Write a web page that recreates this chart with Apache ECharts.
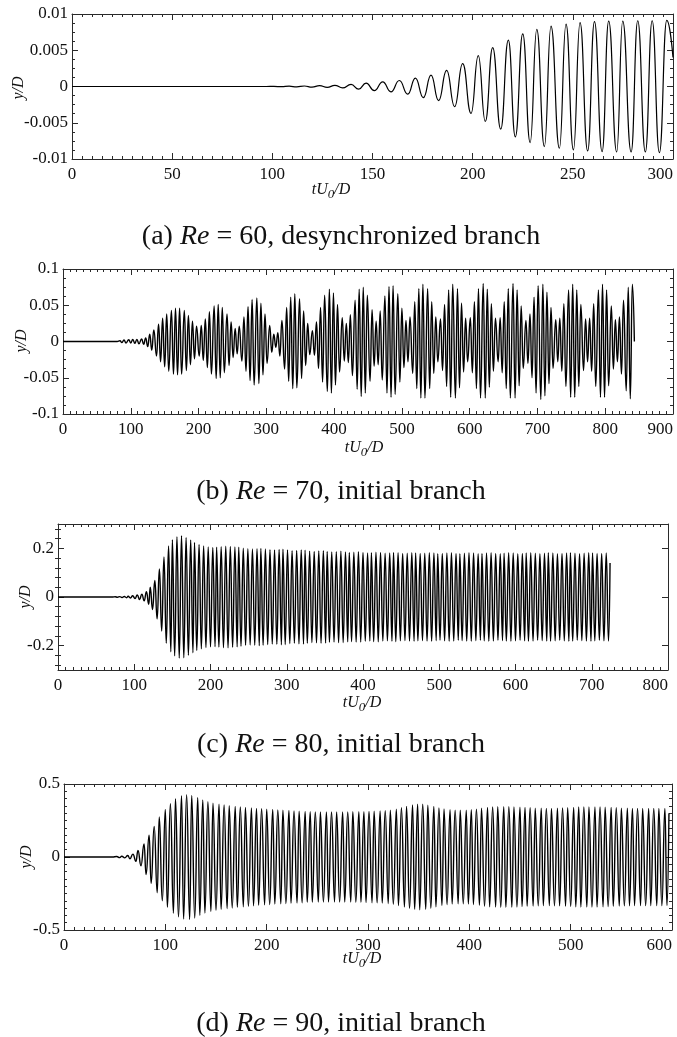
<!DOCTYPE html>
<html><head><meta charset="utf-8">
<script src="https://cdn.jsdelivr.net/npm/echarts@6/dist/echarts.min.js"></script>
<style>html,body{margin:0;padding:0;background:#fff}#c{width:677px;height:1037px}</style>
</head><body><div id="c"></div>
<script>
// ---------- data ----------
const timeA = [0, 97, 100.8, 104.6, 108.4, 112.2, 116, 119.8, 123.6, 127.4, 131.2,
 135.1, 139.3, 143.1, 146.8, 150.9, 155.1, 159.2, 163.4, 167.6, 171.4,
 175.4, 179.2, 183.0, 187.0, 191.0, 195.0, 199.2, 202.8, 206.3, 210.0,
 214.0, 217.8, 221.3, 225.0, 228.7, 232.0, 235.8, 239.1, 243.3, 246.6,
 250.3, 253.6, 257.4, 260.8, 264.6, 267.9, 271.9, 274.9, 279.1, 282.4,
 286.2, 289.6, 293.2, 296.9, 300];
const dispA = [0, 0, 0.00002, -0.00003, 0.00004, -0.00005, 0.00007, -0.00009, 0.00011, -0.00013, 0.00016,
 -0.00019, 0.00028, -0.00037, 0.00046, -0.00056, 0.00065, -0.00074, 0.00083, -0.00106, 0.00116,
 -0.00153, 0.00157, -0.00194, 0.00222, -0.00278, 0.00315, -0.0037, 0.00426, -0.00481, 0.00537,
 -0.00588, 0.00639, -0.00694, 0.00727, -0.00773, 0.00787, -0.00829, 0.00833, -0.00852, 0.00861,
 -0.00875, 0.0088, -0.00889, 0.00894, -0.00898, 0.00903, -0.00903, 0.00903, -0.00903, 0.00907,
 -0.00903, 0.00907, -0.00912, 0.00912, 0.004];

const timeB = [0, 80,
 84, 87, 90, 93, 97, 100, 103, 106, 109, 112, 116, 119, 122, 125, 128, 131, 134, 138, 141, 144,
 147, 150, 153, 156, 160, 163, 166, 169, 172, 175, 179, 182, 185, 188, 191, 194, 197, 201, 204, 207,
 210, 213, 216, 219, 223, 226, 229, 232, 235, 238, 242, 245, 248, 251, 254, 257, 260, 264, 267, 270,
 273, 276, 279, 282, 286, 289, 292, 295, 298, 301, 305, 308, 311, 314, 317, 320, 323, 327, 330, 333,
 336, 339, 342, 345, 349, 352, 355, 358, 361, 364, 368, 371, 374, 377, 380, 383, 386, 390, 393, 396,
 399, 402, 405, 408, 412, 415, 418, 421, 424, 427, 431, 434, 437, 440, 443, 446, 449, 453, 456, 459,
 462, 465, 468, 471, 475, 478, 481, 484, 487, 490, 494, 497, 500, 503, 506, 509, 512, 516, 519, 522,
 525, 528, 531, 534, 538, 541, 544, 547, 550, 553, 557, 560, 563, 566, 569, 572, 575, 579, 582, 585,
 588, 591, 594, 597, 601, 604, 607, 610, 613, 616, 620, 623, 626, 629, 632, 635, 638, 642, 645, 648,
 651, 654, 657, 660, 664, 667, 670, 673, 676, 679, 683, 686, 689, 692, 695, 698, 701, 705, 708, 711,
 714, 717, 720, 723, 727, 730, 733, 736, 739, 742, 746, 749, 752, 755, 758, 761, 764, 768, 771, 774,
 777, 780, 783, 786, 790, 793, 796, 799, 802, 805, 809, 812, 815, 818, 821, 824, 827, 831, 834, 837,
 840, 843];
const dispB = [0, 0,
 0.001, -0.0015, 0.002, -0.002, 0.0025, -0.002, 0.003, -0.0025, 0.003, -0.003, 0.0035, -0.004, 0.005, -0.007, 0.01, -0.012, 0.016, -0.02, 0.024, -0.028,
 0.032, -0.035, 0.038, -0.041, 0.043, -0.045, 0.046, -0.046, 0.046, -0.045, 0.043, -0.04, 0.036, -0.032, 0.028, -0.024, 0.021, -0.02, 0.022, -0.026,
 0.031, -0.036, 0.041, -0.045, 0.049, -0.051, 0.051, -0.05, 0.047, -0.043, 0.038, -0.033, 0.027, -0.022, 0.018, -0.017, 0.021, -0.027, 0.034, -0.041,
 0.048, -0.054, 0.058, -0.06, 0.06, -0.058, 0.053, -0.046, 0.038, -0.03, 0.022, -0.015, 0.01, -0.008, 0.012, -0.02, 0.029, -0.038, 0.047, -0.055,
 0.061, -0.065, 0.066, -0.064, 0.059, -0.051, 0.042, -0.033, 0.025, -0.018, 0.015, -0.019, 0.027, -0.037, 0.047, -0.056, 0.064, -0.069, 0.072, -0.071,
 0.067, -0.06, 0.051, -0.042, 0.033, -0.027, 0.025, -0.029, 0.037, -0.047, 0.057, -0.066, 0.072, -0.076, 0.075, -0.071, 0.064, -0.055, 0.044, -0.034,
 0.028, -0.032, 0.042, -0.053, 0.063, -0.071, 0.076, -0.077, 0.077, -0.073, 0.066, -0.056, 0.046, -0.036, 0.029, -0.028, 0.034, -0.044, 0.055, -0.065,
 0.073, -0.078, 0.079, -0.078, 0.073, -0.065, 0.055, -0.044, 0.034, -0.028, 0.031, -0.04, 0.051, -0.062, 0.071, -0.077, 0.079, -0.078, 0.073, -0.064,
 0.053, -0.042, 0.032, -0.028, 0.033, -0.043, 0.055, -0.065, 0.073, -0.078, 0.08, -0.078, 0.072, -0.063, 0.052, -0.041, 0.032, -0.028, 0.033, -0.043,
 0.055, -0.065, 0.073, -0.078, 0.08, -0.078, 0.071, -0.061, 0.049, -0.037, 0.029, -0.03, 0.038, -0.05, 0.061, -0.071, 0.077, -0.08, 0.079, -0.075,
 0.068, -0.058, 0.047, -0.037, 0.03, -0.028, 0.032, -0.041, 0.052, -0.062, 0.071, -0.077, 0.079, -0.077, 0.071, -0.062, 0.051, -0.04, 0.031, -0.028,
 0.032, -0.041, 0.052, -0.062, 0.071, -0.077, 0.079, -0.077, 0.071, -0.061, 0.049, -0.038, 0.03, -0.028, 0.034, -0.045, 0.057, -0.068, 0.075, -0.079,
 0.079, 0];

const timeC = [0, 72,
 75, 78, 81, 84, 87, 90, 92, 95, 98, 101,
 104, 107, 110, 113, 116, 119, 121, 124, 127, 130,
 133, 136, 139, 142, 145, 148, 150, 153, 156, 159,
 162, 165, 168, 171, 174, 177, 179, 182, 185, 188,
 191, 194, 197, 200, 203, 206, 208, 211, 214, 217,
 220, 223, 226, 229, 232, 235, 237, 240, 243, 246,
 249, 252, 255, 258, 261, 264, 266, 269, 272, 275,
 278, 281, 284, 287, 290, 293, 295, 298, 301, 304,
 307, 310, 313, 316, 319, 322, 324, 327, 330, 333,
 336, 339, 342, 345, 348, 351, 353, 356, 359, 362,
 365, 368, 371, 374, 377, 380, 382, 385, 388, 391,
 394, 397, 400, 403, 406, 409, 411, 414, 417, 420,
 423, 426, 429, 432, 435, 438, 440, 443, 446, 449,
 452, 455, 458, 461, 464, 467, 469, 472, 475, 478,
 481, 484, 487, 490, 493, 496, 498, 501, 504, 507,
 510, 513, 516, 519, 522, 525, 527, 530, 533, 536,
 539, 542, 545, 548, 551, 554, 556, 559, 562, 565,
 568, 571, 574, 577, 580, 583, 585, 588, 591, 594,
 597, 600, 603, 606, 609, 612, 614, 617, 620, 623,
 626, 629, 632, 635, 638, 641, 643, 646, 649, 652,
 655, 658, 661, 664, 667, 670, 672, 675, 678, 681,
 684, 687, 690, 693, 696, 699, 701, 704, 707, 710,
 713, 716, 719, 722, 724];
const dispC = [0, 0,
 0.001, -0.001, 0.0015, -0.002, 0.002, -0.003, 0.003, -0.004, 0.005, -0.006,
 0.008, -0.01, 0.012, -0.016, 0.022, -0.03, 0.04, -0.052, 0.068, -0.09,
 0.115, -0.14, 0.165, -0.19, 0.21, -0.225, 0.235, -0.242, 0.248, -0.251,
 0.252, -0.25, 0.245, -0.24, 0.234, -0.229, 0.224, -0.22, 0.216, -0.213,
 0.21, -0.208, 0.206, -0.205, 0.204, -0.204, 0.205, -0.206, 0.207, -0.208,
 0.209, -0.209, 0.208, -0.207, 0.206, -0.205, 0.205, -0.203, 0.201, -0.199,
 0.198, -0.197, 0.197, -0.198, 0.199, -0.2, 0.2, -0.199, 0.197, -0.195,
 0.194, -0.193, 0.193, -0.194, 0.195, -0.196, 0.196, -0.195, 0.193, -0.191,
 0.19, -0.19, 0.191, -0.192, 0.193, -0.193, 0.192, -0.19, 0.188, -0.187,
 0.187, -0.188, 0.189, -0.19, 0.19, -0.189, 0.187, -0.186, 0.185, -0.185,
 0.186, -0.187, 0.188, -0.187, 0.185, -0.184, 0.183, -0.183, 0.184, -0.185,
 0.186, -0.185, 0.183, -0.182, 0.181, -0.181, 0.182, -0.183, 0.184, -0.184,
 0.183, -0.181, 0.18, -0.18, 0.181, -0.182, 0.183, -0.183, 0.182, -0.18,
 0.179, -0.179, 0.18, -0.181, 0.182, -0.182, 0.181, -0.18, 0.179, -0.179,
 0.18, -0.181, 0.182, -0.182, 0.181, -0.179, 0.178, -0.178, 0.179, -0.18,
 0.181, -0.182, 0.182, -0.181, 0.179, -0.178, 0.178, -0.179, 0.18, -0.181,
 0.182, -0.182, 0.181, -0.179, 0.178, -0.178, 0.179, -0.18, 0.181, -0.182,
 0.182, -0.181, 0.179, -0.178, 0.178, -0.179, 0.18, -0.181, 0.182, -0.182,
 0.181, -0.18, 0.178, -0.178, 0.179, -0.18, 0.181, -0.182, 0.182, -0.181,
 0.18, -0.178, 0.178, -0.179, 0.18, -0.181, 0.182, -0.182, 0.181, -0.18,
 0.178, -0.178, 0.179, -0.18, 0.181, -0.182, 0.182, -0.181, 0.18, -0.178,
 0.178, -0.179, 0.18, -0.181, 0.182, -0.182, 0.181, -0.18, 0.179, -0.178,
 0.179, -0.18, 0.181, -0.181, 0.14];

const timeD = [0, 48,
 52, 55, 57, 60, 63, 65, 68, 71, 73, 76,
 79, 81, 84, 86, 89, 92, 94, 97, 100, 102,
 105, 108, 110, 113, 116, 118, 121, 124, 126, 129,
 132, 134, 137, 139, 142, 145, 147, 150, 153, 155,
 158, 161, 163, 166, 169, 171, 174, 177, 179, 182,
 185, 187, 190, 192, 195, 198, 200, 203, 206, 208,
 211, 214, 216, 219, 222, 224, 227, 230, 232, 235,
 238, 240, 243, 245, 248, 251, 253, 256, 259, 261,
 264, 267, 269, 272, 275, 277, 280, 283, 285, 288,
 291, 293, 296, 298, 301, 304, 306, 309, 312, 314,
 317, 320, 322, 325, 328, 330, 333, 336, 338, 341,
 344, 346, 349, 351, 354, 357, 359, 362, 365, 367,
 370, 373, 375, 378, 381, 383, 386, 389, 391, 394,
 397, 399, 402, 404, 407, 410, 412, 415, 418, 420,
 423, 426, 428, 431, 434, 436, 439, 442, 444, 447,
 450, 452, 455, 457, 460, 463, 465, 468, 471, 473,
 476, 479, 481, 484, 487, 489, 492, 495, 497, 500,
 503, 505, 508, 510, 513, 516, 518, 521, 524, 526,
 529, 532, 534, 537, 540, 542, 545, 548, 550, 553,
 556, 558, 561, 563, 566, 569, 571, 574, 577, 579,
 582, 585, 587, 590, 593, 595, 597];
const dispD = [0, 0,
 0.003, -0.004, 0.005, -0.006, 0.01, -0.012, 0.02, -0.03, 0.045, -0.06,
 0.09, -0.12, 0.15, -0.18, 0.21, -0.245, 0.275, -0.3, 0.325, -0.345,
 0.365, -0.385, 0.4, -0.41, 0.42, -0.425, 0.427, -0.428, 0.422, -0.418,
 0.408, -0.4, 0.39, -0.384, 0.378, -0.373, 0.369, -0.365, 0.362, -0.359,
 0.356, -0.353, 0.351, -0.349, 0.346, -0.344, 0.342, -0.341, 0.34, -0.338,
 0.336, -0.334, 0.333, -0.331, 0.33, -0.328, 0.327, -0.326, 0.325, -0.323,
 0.322, -0.321, 0.32, -0.319, 0.318, -0.317, 0.316, -0.315, 0.314, -0.313,
 0.312, -0.311, 0.31, -0.31, 0.309, -0.309, 0.308, -0.308, 0.308, -0.308,
 0.308, -0.308, 0.308, -0.308, 0.309, -0.309, 0.309, -0.309, 0.31, -0.31,
 0.31, -0.311, 0.311, -0.312, 0.312, -0.313, 0.313, -0.314, 0.315, -0.316,
 0.317, -0.319, 0.321, -0.324, 0.328, -0.332, 0.337, -0.342, 0.347, -0.352,
 0.356, -0.359, 0.361, -0.362, 0.361, -0.359, 0.355, -0.351, 0.346, -0.341,
 0.336, -0.332, 0.329, -0.326, 0.324, -0.322, 0.321, -0.32, 0.32, -0.32,
 0.321, -0.322, 0.324, -0.326, 0.328, -0.331, 0.334, -0.337, 0.339, -0.341,
 0.342, -0.343, 0.344, -0.345, 0.345, -0.345, 0.344, -0.344, 0.343, -0.342,
 0.341, -0.34, 0.339, -0.338, 0.337, -0.336, 0.335, -0.334, 0.334, -0.333,
 0.333, -0.333, 0.333, -0.334, 0.334, -0.335, 0.336, -0.337, 0.338, -0.339,
 0.34, -0.341, 0.342, -0.342, 0.343, -0.343, 0.343, -0.343, 0.343, -0.342,
 0.342, -0.341, 0.341, -0.34, 0.339, -0.338, 0.337, -0.336, 0.335, -0.335,
 0.334, -0.334, 0.333, -0.333, 0.333, -0.333, 0.333, -0.333, 0.333, -0.333,
 0.333, -0.333, 0.333, -0.333, 0.333, -0.332, 0.3];

// tick labels / tick positions for panel (c) y axis
const yLabelsC = [-0.2, 0, 0.2];
const yMinorC = [-0.28, -0.24, -0.16, -0.12, -0.08, -0.04, 0.04, 0.08, 0.12, 0.16, 0.24, 0.28];

// captions
const captions = [
  {tag: '(a) ', re: '60', rest: ', desynchronized branch'},
  {tag: '(b) ', re: '70', rest: ', initial branch'},
  {tag: '(c) ', re: '80', rest: ', initial branch'},
  {tag: '(d) ', re: '90', rest: ', initial branch'}
];

// ---------- layout ----------
const serif = "'Liberation Serif','Times New Roman',serif";
const axisColor = '#2a2a2a';
const panels = [
  {t: timeA, v: dispA, grid: {left: 72, right: 4, top: 14, height: 145}, xMax: 300, xInt: 50, yMin: -0.01, yMax: 0.01, yInt: 0.005, yMinor: 4,
   lw: 1.2, yName: [19, 88], xName: [331, 190], cap: 237},
  {t: timeB, v: dispB, grid: {left: 63, right: 4, top: 269, height: 145}, xMax: 900, xInt: 100, yMin: -0.1, yMax: 0.1, yInt: 0.05, yMinor: 4,
   lw: 1.4, yName: [22, 341], xName: [364, 448], cap: 492},
  {t: timeC, v: dispC, grid: {left: 58, right: 9, top: 524, height: 146}, xMax: 800, xInt: 100, yMin: -0.3, yMax: 0.3, custom: true,
   lw: 1.4, yName: [26, 597], xName: [362, 703], cap: 745},
  {t: timeD, v: dispD, grid: {left: 64, right: 5, top: 784, height: 146}, xMax: 600, xInt: 100, yMin: -0.5, yMax: 0.5, yInt: 0.5, yMinor: 10,
   lw: 1.4, yName: [27, 857], xName: [362, 959], cap: 1024}
];

const grids = [], xAxes = [], yAxes = [], series = [], graphics = [];
const lineSt = {color: axisColor, width: 1};
panels.forEach((p, i) => {
  grids.push(Object.assign({}, p.grid));
  const xb = {gridIndex: i, type: 'value', min: 0, max: p.xMax, interval: p.xInt,
    axisLine: {show: true, onZero: false, lineStyle: lineSt},
    axisTick: {show: true, inside: true, length: 6, lineStyle: lineSt},
    minorTick: {show: true, splitNumber: 10, length: 3, lineStyle: lineSt},
    splitLine: {show: false}, minorSplitLine: {show: false}};
  const xi = xAxes.length;
  xAxes.push(Object.assign({}, xb, {position: 'bottom',
    axisLabel: {fontFamily: serif, fontSize: 17, color: '#111', margin: 7, alignMaxLabel: 'right'}}));
  xAxes.push(Object.assign({}, xb, {position: 'top', axisLabel: {show: false}}));
  const yi = yAxes.length;
  if (!p.custom) {
    const yb = {gridIndex: i, type: 'value', min: p.yMin, max: p.yMax, interval: p.yInt,
      axisLine: {show: true, onZero: false, lineStyle: lineSt},
      axisTick: {show: true, inside: true, length: 6, lineStyle: lineSt},
      minorTick: {show: true, splitNumber: p.yMinor, length: 3, lineStyle: lineSt},
      splitLine: {show: false}, minorSplitLine: {show: false}};
    yAxes.push(Object.assign({}, yb, {position: 'left', axisLabel: {fontFamily: serif, fontSize: 17, color: '#111', margin: 4}}));
    yAxes.push(Object.assign({}, yb, {position: 'right', axisLabel: {show: false}}));
  } else {
    const yb = {gridIndex: i, type: 'value', min: p.yMin, max: p.yMax,
      splitLine: {show: false}};
    ['left', 'right'].forEach(pos => {
      yAxes.push(Object.assign({}, yb, {position: pos,
        axisLine: {show: true, onZero: false, lineStyle: lineSt},
        axisTick: {show: true, inside: true, length: 6, lineStyle: lineSt, customValues: yLabelsC},
        axisLabel: pos === 'left' ? {fontFamily: serif, fontSize: 17, color: '#111', margin: 4, customValues: yLabelsC} : {show: false}}));
      yAxes.push(Object.assign({}, yb, {position: pos,
        axisLine: {show: false},
        axisTick: {show: true, inside: true, length: 3, lineStyle: lineSt, customValues: yMinorC},
        axisLabel: {show: false}}));
    });
  }
  series.push({type: 'line', xAxisIndex: xi, yAxisIndex: yi,
    data: p.t.map((t, k) => [t, p.v[k]]),
    showSymbol: false, symbol: 'none', smooth: 0.5, smoothMonotone: 'x',
    lineStyle: {color: '#000', width: p.lw}, silent: true, animation: false});

  // axis titles
  graphics.push({type: 'text', x: p.yName[0], y: p.yName[1], rotation: Math.PI / 2,
    style: {text: 'y/D', fontFamily: serif, fontStyle: 'italic', fontSize: 16, fill: '#111', align: 'center', verticalAlign: 'middle'}});
  graphics.push({type: 'text', x: p.xName[0], y: p.xName[1],
    style: {text: '{n|tU}{s|0}{n|/D}', fill: '#111', align: 'center', verticalAlign: 'middle',
      rich: {n: {fontFamily: serif, fontStyle: 'italic', fontSize: 16, fill: '#111'},
             s: {fontFamily: serif, fontStyle: 'italic', fontSize: 13, fill: '#111', padding: [10, 0, 0, 0]}}}});
  const c = captions[i];
  graphics.push({type: 'text', x: 341, y: p.cap,
    style: {text: c.tag + '{i|Re} = ' + c.re + c.rest, fontFamily: serif, fontSize: 28, fill: '#111',
      align: 'center', verticalAlign: 'middle',
      rich: {i: {fontFamily: serif, fontStyle: 'italic', fontSize: 28, fill: '#111'}}}});
});

const chart = echarts.init(document.getElementById('c'), null, {renderer: 'canvas'});
chart.setOption({
  animation: false,
  backgroundColor: '#fff',
  grid: grids, xAxis: xAxes, yAxis: yAxes, series: series,
  graphic: graphics
});
</script>
</body></html>
